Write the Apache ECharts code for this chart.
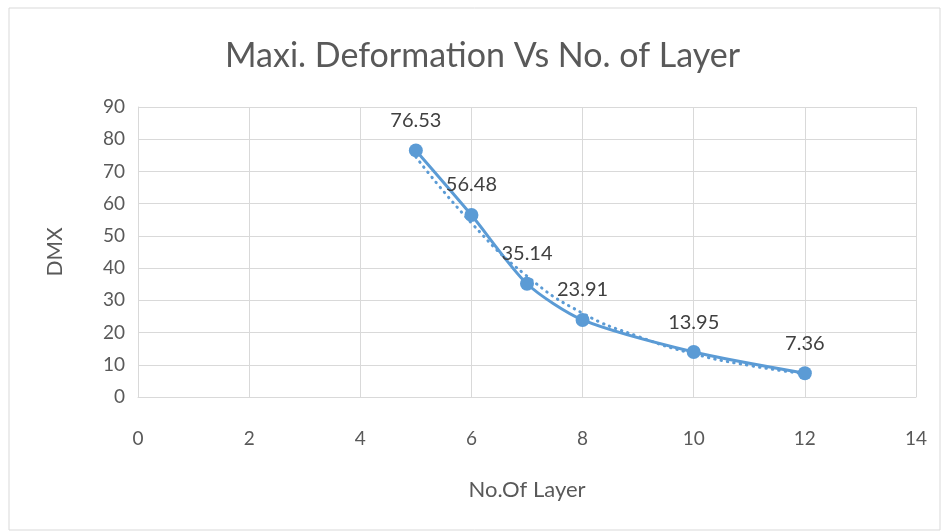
<!DOCTYPE html>
<html>
<head>
<meta charset="utf-8">
<script src="https://cdn.jsdelivr.net/npm/echarts@6/dist/echarts.min.js"></script>
<style>
  html, body { margin: 0; padding: 0; background: #fff; }
  #chart { width: 942px; height: 531px; }
</style>
</head>
<body>
<div id="chart"></div>
<script>
// data
var layers = [5, 6, 7, 8, 10, 12];
var dmx = [76.53, 56.48, 35.14, 23.91, 13.95, 7.36];
// dotted trendline
var trendX = [5, 6, 7, 8, 9, 10, 11, 12];
var trendY = [74.5, 54.0, 37.5, 26.0, 18.8, 13.4, 9.8, 7.2];

var xTicks = [0, 14, 2];
var yTicks = [0, 90, 10];

var font = 'Lato, "Open Sans", sans-serif';
var blue = '#5b9bd5';

var chart = echarts.init(document.getElementById('chart'));
chart.setOption({
  animation: false,
  textStyle: { fontFamily: font },
  title: {
    text: 'Maxi. Deformation Vs No. of Layer',
    left: 220,
    top: 34,
    textStyle: { fontFamily: font, fontSize: 34, fontWeight: 'normal', color: '#595959' }
  },
  graphic: [{
    type: 'rect',
    shape: { x: 9, y: 8, width: 931, height: 522 },
    style: { fill: 'none', stroke: '#d9d9d9', lineWidth: 1 },
    silent: true
  }],
  grid: { left: 138, right: 26, top: 107, bottom: 134 },
  xAxis: {
    type: 'value',
    min: xTicks[0], max: xTicks[1], interval: xTicks[2],
    name: 'No.Of Layer',
    nameLocation: 'middle',
    nameGap: 82,
    nameTextStyle: { fontSize: 22, color: '#595959', fontFamily: font },
    axisLine: { show: true, lineStyle: { color: '#d9d9d9' } },
    axisTick: { show: false },
    axisLabel: { fontSize: 19, color: '#595959', margin: 32 },
    splitLine: { show: true, lineStyle: { color: '#d9d9d9', width: 1 } }
  },
  yAxis: {
    type: 'value',
    min: yTicks[0], max: yTicks[1], interval: yTicks[2],
    name: 'DMX',
    nameLocation: 'middle',
    nameGap: 72,
    nameRotate: 90,
    nameTextStyle: { fontSize: 21, color: '#595959', fontFamily: font },
    axisLine: { show: true, lineStyle: { color: '#d9d9d9' } },
    axisTick: { show: false },
    axisLabel: { fontSize: 19, color: '#595959', margin: 13 },
    splitLine: { show: true, lineStyle: { color: '#d9d9d9', width: 1 } }
  },
  series: [
    {
      type: 'line',
      data: trendX.map(function (x, i) { return [x, trendY[i]]; }),
      smooth: true,
      showSymbol: false,
      lineStyle: { color: blue, width: 3, type: [0.5, 6], cap: 'round' },
      z: 1
    },
    {
      type: 'line',
      data: layers.map(function (x, i) { return [x, dmx[i]]; }),
      smooth: 0.25,
      symbol: 'circle',
      symbolSize: 14,
      itemStyle: { color: blue },
      lineStyle: { color: blue, width: 3 },
      label: {
        show: true,
        position: 'top',
        distance: 13,
        fontSize: 20,
        color: '#404040',
        fontFamily: font
      },
      z: 2
    }
  ]
});
</script>
</body>
</html>
